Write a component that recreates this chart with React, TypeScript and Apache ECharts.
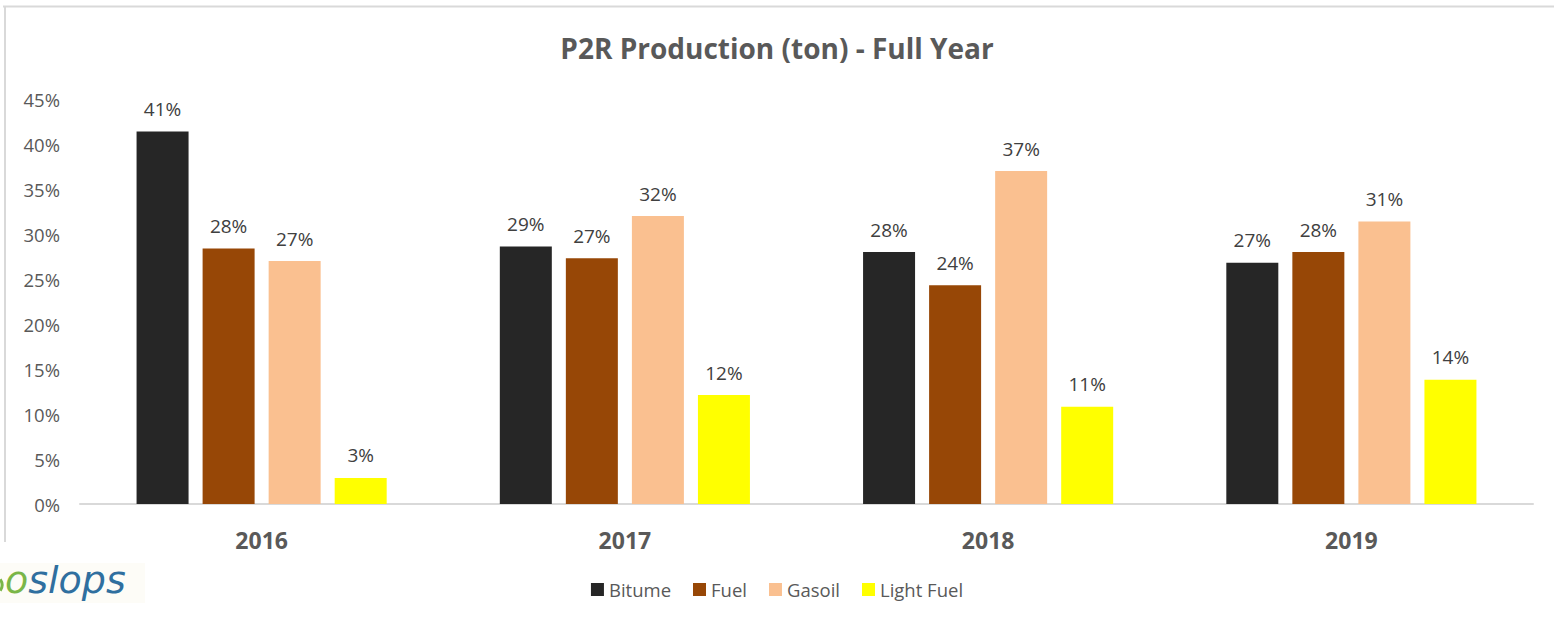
import React, { useEffect, useRef } from "react";
import * as echarts from "echarts";

const years = ["2016", "2017", "2018", "2019"];
const seriesNames = ["Bitume", "Fuel", "Gasoil", "Light Fuel"];
const bitume = [41.4, 28.6, 28.0, 26.8];
const fuel = [28.4, 27.3, 24.3, 28.0];
const gasoil = [27.0, 32.0, 37.0, 31.4];
const lightFuel = [2.9, 12.1, 10.8, 13.8];
const colors = ["#262626", "#974706", "#FAC090", "#FFFF00"];
const yTicks = { min: 0, max: 45, interval: 5 };
const titleText = "P2R Production (ton) - Full Year";

export default function App() {
  const ref = useRef<HTMLDivElement>(null);
  useEffect(() => {
    document.body.style.margin = "0";
    const chart = echarts.init(ref.current!, null, { renderer: "svg" });
    const font = "'Open Sans', sans-serif";
    const allData = [bitume, fuel, gasoil, lightFuel];
    chart.setOption({
      animation: false,
      backgroundColor: "#ffffff",
      textStyle: { fontFamily: font },
      title: {
        text: titleText,
        left: "center",
        top: 29,
        textStyle: { fontFamily: font, fontSize: 28, fontWeight: "bold", color: "#595959" },
      },
      legend: {
        data: seriesNames,
        bottom: 19,
        left: "center",
        icon: "rect",
        itemWidth: 13,
        itemHeight: 13,
        itemGap: 22,
        textStyle: { fontFamily: font, fontSize: 18.5, color: "#595959" },
      },
      grid: { left: 80, right: 21, top: 99, bottom: 119, containLabel: false },
      xAxis: {
        type: "category",
        data: years,
        axisLine: { lineStyle: { color: "#d9d9d9", width: 2 } },
        axisTick: { show: false },
        axisLabel: {
          margin: 24,
          fontFamily: font,
          fontSize: 23,
          fontWeight: "bold",
          color: "#595959",
        },
      },
      yAxis: {
        type: "value",
        min: yTicks.min,
        max: yTicks.max,
        interval: yTicks.interval,
        axisLine: { show: false },
        axisTick: { show: false },
        splitLine: { show: false },
        axisLabel: {
          margin: 20,
          formatter: "{value}%",
          fontFamily: font,
          fontSize: 18.5,
          color: "#595959",
        },
      },
      series: seriesNames.map((name, i) => ({
        name,
        type: "bar",
        data: allData[i],
        barWidth: 52,
        barGap: "27%",
        itemStyle: { color: colors[i] },
        label: {
          show: true,
          position: "top",
          distance: 13,
          formatter: (p: any) => Math.round(p.value) + "%",
          fontFamily: font,
          fontSize: 19,
          color: "#404040",
        },
      })),
      graphic: [
        {
          type: "line",
          shape: { x1: 3, y1: 6.5, x2: 1554, y2: 6.5 },
          style: { stroke: "#d9d9d9", lineWidth: 2 },
          silent: true,
        },
        {
          type: "line",
          shape: { x1: 5, y1: 6, x2: 5, y2: 542 },
          style: { stroke: "#d9d9d9", lineWidth: 2 },
          silent: true,
        },
        {
          type: "rect",
          shape: { x: 0, y: 563, width: 145, height: 40 },
          style: { fill: "#fdfcf7" },
          silent: true,
        },
        {
          type: "arc",
          shape: { cx: -8, cy: 585, r: 10, startAngle: -0.6, endAngle: 0.6 },
          style: { stroke: "#7ab648", lineWidth: 3, fill: "none" },
          silent: true,
        },
        {
          type: "text",
          x: 5,
          y: 561,
          style: {
            text: "{g|o}{b|slops}",
            rich: {
              g: { fontFamily: "'DejaVu Sans', sans-serif", fontStyle: "italic", fontSize: 38, fill: "#7ab648", color: "#7ab648" },
              b: { fontFamily: "'DejaVu Sans', sans-serif", fontStyle: "italic", fontSize: 38, fill: "#2f6f9f", color: "#2f6f9f" },
            },
          },
          silent: true,
        },
      ],
    });
    return () => chart.dispose();
  }, []);
  return <div ref={ref} style={{ width: 1554, height: 623 }} />;
}
